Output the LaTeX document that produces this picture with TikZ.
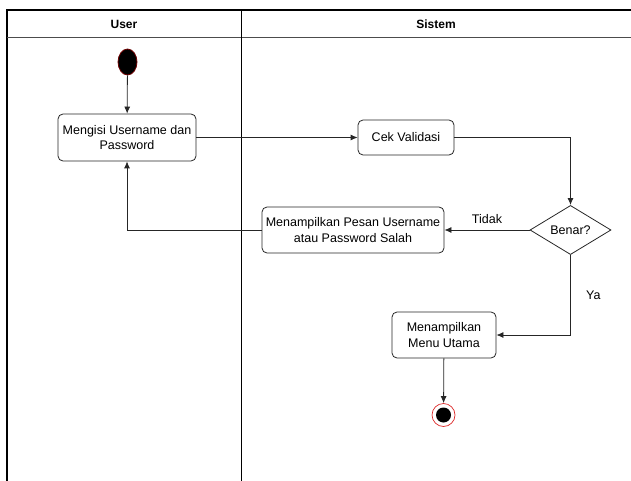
\documentclass[tikz,border=0pt]{standalone}
\usepackage{fontspec}
\setmainfont{Liberation Sans}
\usetikzlibrary{shapes.geometric,arrows.meta}
\definecolor{startrim}{RGB}{110,0,0}
\definecolor{endring}{RGB}{220,40,40}
\begin{document}
\begin{tikzpicture}[x=1pt,y=-1pt,
  font=\fontsize{12.5}{15.5}\selectfont,
  lane/.style={line width=2pt,black},
  act/.style={draw=black!85,line width=0.8pt,rounded corners=5pt,align=center,inner sep=0pt},
  decision/.style={draw=black!85,line width=0.8pt,diamond,inner sep=0pt,minimum width=81pt,minimum height=46pt},
  flow/.style={draw=black!85,line width=0.8pt,-{Latex[length=7pt,width=6pt]}},
  startdot/.style={ellipse,fill=black,draw=startrim,line width=0.8pt,minimum width=19pt,minimum height=26pt,inner sep=0pt},
  enddot/.style={circle,draw=endring,line width=0.7pt,minimum size=23pt,inner sep=0pt,path picture={\fill[black] (path picture bounding box.center) circle (7.5pt);}},
  laneheader/.style={font=\fontsize{12}{14}\selectfont\bfseries}]
\useasboundingbox (0,0) rectangle (631,481);

% swimlane frame
\draw[lane] (7,481) -- (7,10) -- (631,10);
\draw[line width=1.5pt,black!70] (7,37.5) -- (631,37.5);
\draw[line width=1pt,black] (241,10) -- (241,481);
\node[laneheader] (huser) at (124,24) {User};
\node[laneheader] (hsys) at (436,24) {Sistem};

% activity nodes
\node[startdot] (init) at (127.5,62) {};
\node[act,minimum width=138pt,minimum height=47pt] (fill) at (127,137.5) {Mengisi Username dan\\Password};
\node[act,minimum width=96pt,minimum height=35pt] (cek) at (406,137.5) {Cek Validasi};
\node[decision] (dec) at (570.5,230) {Benar?};
\node[act,minimum width=182pt,minimum height=46pt] (err) at (353,230) {Menampilkan Pesan Username\\atau Password Salah};
\node[act,minimum width=104pt,minimum height=46pt] (menu) at (444,335) {Menampilkan\\Menu Utama};
\node[enddot] (fin) at (443.5,415) {};

% control flow
\draw[flow] (init) -- (fill);
\draw[flow] (fill) -- (cek);
\draw[flow] (cek.east) -| (dec.north);
\draw[flow] (dec.west) -- node[above=3pt] {Tidak} (err.east);
\draw[flow] (err.west) -| (fill.south);
\draw[flow] (dec.south) |- node[pos=0.25,right=12pt] {Ya} (menu.east);
\draw[flow] (menu) -- (fin);
\end{tikzpicture}
\end{document}
